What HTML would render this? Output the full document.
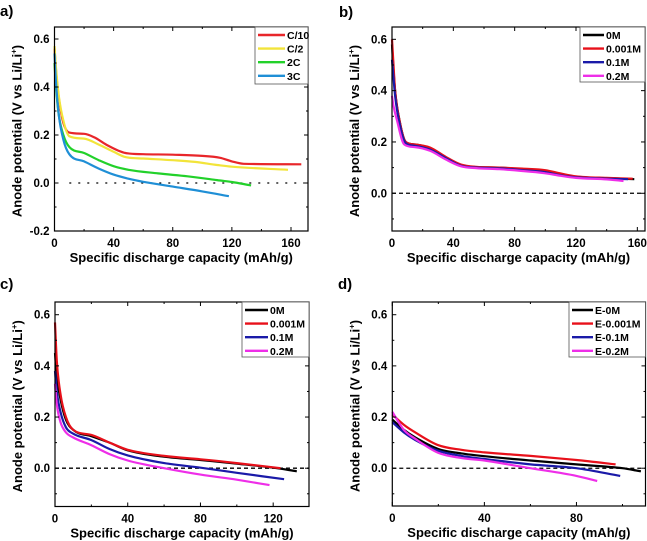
<!DOCTYPE html>
<html><head><meta charset="utf-8"><style>
html,body{margin:0;padding:0;background:#fff;}
svg{display:block;font-family:"Liberation Sans",Arial,sans-serif;font-weight:bold;}
</style></head><body>
<svg id="fig" width="647" height="541" viewBox="0 0 647 541" xmlns="http://www.w3.org/2000/svg"></svg>
<script>
// ---- Panel a data ----
const aNames = ["C/10","C/2","2C","3C"];
const aColors = ["#e8262a","#f2e43a","#22d12a","#1f8fd6"];
const aX = [
 [0,1,2,4,6,10,20,27,35,48,60,80,100,112,120,128,167],
 [0,1,3,6,10,20,30,40,48,60,80,95,110,120,158],
 [0,1,3,6,10,20,30,40,50,70,90,110,120,133],
 [0,1,3,6,10,20,30,40,50,60,80,100,118]];
const aY = [
 [0.56,0.47,0.40,0.31,0.25,0.21,0.205,0.19,0.16,0.125,0.12,0.118,0.113,0.105,0.09,0.08,0.078],
 [0.57,0.48,0.36,0.26,0.195,0.185,0.16,0.13,0.108,0.102,0.095,0.088,0.075,0.068,0.055],
 [0.50,0.40,0.28,0.20,0.15,0.125,0.095,0.07,0.055,0.04,0.028,0.012,0.004,-0.01],
 [0.54,0.42,0.28,0.18,0.12,0.09,0.06,0.035,0.018,0.005,-0.015,-0.035,-0.055]];
// ---- Panel b data ----
const bNames = ["0M","0.001M","0.1M","0.2M"];
const bColors = ["#000000","#e8101a","#1a1aa8","#ee2ee8"];
const bX = [
 [0,1,2,5,9,15,25,35,45,55,70,85,100,110,120,140,158],
 [0,1,2,5,9,15,25,35,45,55,70,85,100,110,120,140,157],
 [0,1,2,5,9,15,25,35,45,55,70,85,100,110,120,140,154],
 [0,1,3,8,15,25,35,45,55,70,85,100,110,120,140,151]];
const bY = [
 [0.58,0.48,0.40,0.28,0.20,0.19,0.175,0.14,0.11,0.102,0.10,0.093,0.085,0.073,0.064,0.059,0.055],
 [0.60,0.50,0.40,0.28,0.20,0.19,0.178,0.142,0.112,0.103,0.10,0.096,0.09,0.077,0.066,0.06,0.057],
 [0.52,0.45,0.38,0.27,0.195,0.185,0.17,0.137,0.107,0.1,0.097,0.09,0.082,0.07,0.062,0.057,0.055],
 [0.38,0.34,0.29,0.19,0.18,0.165,0.132,0.105,0.098,0.094,0.087,0.078,0.068,0.06,0.054,0.048]];
// ---- Panel c data ----
const cNames = ["0M","0.001M","0.1M","0.2M"];
const cColors = ["#000000","#e8101a","#1a1aa8","#ee2ee8"];
const cX = [
 [0,1,3,6,10,20,30,40,60,80,100,120,133],
 [0,1,3,6,10,20,30,40,60,80,100,124],
 [0,1,3,6,10,20,30,40,60,80,100,126],
 [0,1,3,6,10,20,30,40,60,80,100,118]];
const cY = [
 [0.45,0.36,0.27,0.19,0.15,0.125,0.10,0.07,0.045,0.032,0.018,0.002,-0.012],
 [0.57,0.42,0.29,0.20,0.15,0.13,0.10,0.072,0.048,0.035,0.02,0.0],
 [0.38,0.30,0.22,0.16,0.135,0.11,0.075,0.05,0.02,0.002,-0.018,-0.043],
 [0.33,0.25,0.18,0.14,0.12,0.09,0.055,0.03,0.0,-0.025,-0.045,-0.066]];
// ---- Panel d data ----
const dNames = ["E-0M","E-0.001M","E-0.1M","E-0.2M"];
const dColors = ["#000000","#e8101a","#1a1aa8","#ee2ee8"];
const dX = [
 [0,5,10,20,30,40,60,80,100,108],
 [0,5,10,20,30,40,60,80,97],
 [0,5,10,20,30,40,60,80,99],
 [0,5,10,20,30,40,60,80,89]];
const dY = [
 [0.19,0.15,0.12,0.075,0.058,0.047,0.03,0.015,0.0,-0.012],
 [0.21,0.17,0.14,0.09,0.072,0.062,0.048,0.032,0.015],
 [0.18,0.14,0.11,0.068,0.048,0.036,0.015,0.0,-0.03],
 [0.22,0.15,0.115,0.06,0.04,0.03,0.0,-0.03,-0.05]];
const aXTicks=[0,40,80,120,160], aYTicks=[-0.2,0,0.2,0.4,0.6];
const bXTicks=[0,40,80,120,160], bYTicks=[0,0.2,0.4,0.6];
const cXTicks=[0,40,80,120], cYTicks=[0,0.2,0.4,0.6];
const dXTicks=[0,40,80], dYTicks=[0,0.2,0.4,0.6];

const NS="http://www.w3.org/2000/svg";
const svg=document.getElementById('fig');
function mk(tag,attrs,parent){const e=document.createElementNS(NS,tag);for(const k in attrs)e.setAttribute(k,attrs[k]);(parent||svg).appendChild(e);return e;}

// monotone cubic interpolation (Fritsch-Carlson)
function monoPath(px,py){
  const n=px.length;if(n<3){return 'M'+px[0]+','+py[0]+'L'+px[1]+','+py[1];}
  const d=[],m=[];
  for(let i=0;i<n-1;i++)d.push((py[i+1]-py[i])/(px[i+1]-px[i]));
  m[0]=d[0];m[n-1]=d[n-2];
  for(let i=1;i<n-1;i++)m[i]=(d[i-1]*d[i]<=0)?0:(d[i-1]+d[i])/2;
  for(let i=0;i<n-1;i++){if(d[i]===0){m[i]=0;m[i+1]=0;continue;}
    const a=m[i]/d[i],b=m[i+1]/d[i],s=a*a+b*b;if(s>9){const t=3/Math.sqrt(s);m[i]=t*a*d[i];m[i+1]=t*b*d[i];}}
  let p='M'+px[0].toFixed(1)+','+py[0].toFixed(1);
  for(let i=0;i<n-1;i++){const h=px[i+1]-px[i];
    p+='C'+(px[i]+h/3).toFixed(1)+','+(py[i]+m[i]*h/3).toFixed(1)+' '+(px[i+1]-h/3).toFixed(1)+','+(py[i+1]-m[i+1]*h/3).toFixed(1)+' '+px[i+1].toFixed(1)+','+py[i+1].toFixed(1);}
  return p;
}

function panel(id,letter,lx,ly,box,xr,yr,xt,yt,names,colors,xs,ys,leg,dotted){
  const g=mk('g',{});
  
  
  const [L,T,R,B]=box;
  const sx=v=>L+(v-xr[0])/(xr[1]-xr[0])*(R-L);
  const sy=v=>B-(v-yr[0])/(yr[1]-yr[0])*(B-T);
  const lab=mk('text',{x:lx,y:ly,'font-size':15},g);lab.textContent=letter;
  
  
  const zl=mk('line',{x1:dotted?sx(10):L,x2:dotted?R-4:R,y1:sy(0),y2:sy(0),stroke:'#000','stroke-width':1.3,'stroke-dasharray':dotted?'2,7':'4,3'},g);
  
  
  for(let i=0;i<names.length;i++){
    const px=xs[i].map(sx),py=ys[i].map(sy);
    const p=mk('path',{d:monoPath(px,py),fill:'none',stroke:colors[i],'stroke-width':2.2,'stroke-linejoin':'round'},g);
    
    
  }
  const fr=mk('rect',{x:L,y:T,width:R-L,height:B-T,fill:'none',stroke:'#000','stroke-width':1.2},g);
  
  
  const step=xt[1]-xt[0];
  for(let v=xr[0];v<=xr[1]+1e-9;v+=step/2){
    const major=xt.some(t=>Math.abs(t-v)<1e-9);const len=major?4:2;
    mk('line',{x1:sx(v),x2:sx(v),y1:B,y2:B-len,stroke:'#000'},g);
    mk('line',{x1:sx(v),x2:sx(v),y1:T,y2:T+len,stroke:'#000'},g);
  }
  xt.forEach(v=>{const t=mk('text',{x:sx(v),y:B+16,'font-size':11.5,'text-anchor':'middle'},g);t.textContent=String(v);
    
    });
  for(let v=-0.2;v<=0.65;v+=0.1){
    if(sy(v)>B+0.5||sy(v)<T-0.5)continue;
    const major=Math.round(v*10)%2===0;const len=major?4:2;
    mk('line',{x1:L,x2:L+len,y1:sy(v),y2:sy(v),stroke:'#000'},g);
    mk('line',{x1:R,x2:R-len,y1:sy(v),y2:sy(v),stroke:'#000'},g);
  }
  yt.forEach(v=>{const t=mk('text',{x:L-5,y:sy(v)+4,'font-size':11.5,'text-anchor':'end'},g);t.textContent=v.toFixed(1);
    
    });
  const xtl=mk('text',{x:(L+R)/2,y:B+31,'font-size':13,'text-anchor':'middle'},g);
  xtl.textContent='Specific discharge capacity (mAh/g)';
  
  
  const ytl=mk('text',{x:0,y:0,'font-size':13,'text-anchor':'middle',transform:`translate(${L-33},${(T+B)/2+2}) rotate(-90)`},g);
  ytl.innerHTML='Anode potential (V vs Li/Li<tspan dy="-5" font-size="8">+</tspan><tspan dy="5">)</tspan>';
  
  
  const lg=mk('g',{},g);
  
  
  mk('rect',{x:leg[0],y:T,width:R-leg[0],height:leg[1],fill:'#fff',stroke:'#555','stroke-width':0.8},lg);
  names.forEach((n,i)=>{const yy=T+8+i*13.6;
    const ln=mk('line',{x1:leg[0]+3,x2:leg[0]+leg[2],y1:yy,y2:yy,stroke:colors[i],'stroke-width':2.4},lg);
    
    
    const t=mk('text',{x:leg[0]+leg[2]+2,y:yy+4,'font-size':10.5},lg);t.textContent=n;
    
    });
}
panel('a','a)',0,16,[54.5,27,308,231],[0,171.5],[-0.2,0.65],aXTicks,aYTicks,aNames,aColors,aX,aY,[255,57,30],true);
panel('b','b)',339,17,[392,27,645,231],[0,165],[-0.147,0.648],bXTicks,bYTicks,bNames,bColors,bX,bY,[580,55,24],false);
panel('c','c)',0,289,[55,302,309,506.5],[0,139.7],[-0.1497,0.6497],cXTicks,cYTicks,cNames,cColors,cX,cY,[242,55,26],false);
panel('d','d)',338,289,[392.3,302,645.5,506],[0,110],[-0.1477,0.6497],dXTicks,dYTicks,dNames,dColors,dX,dY,[569,55,24],false);
</script>
</body></html>
